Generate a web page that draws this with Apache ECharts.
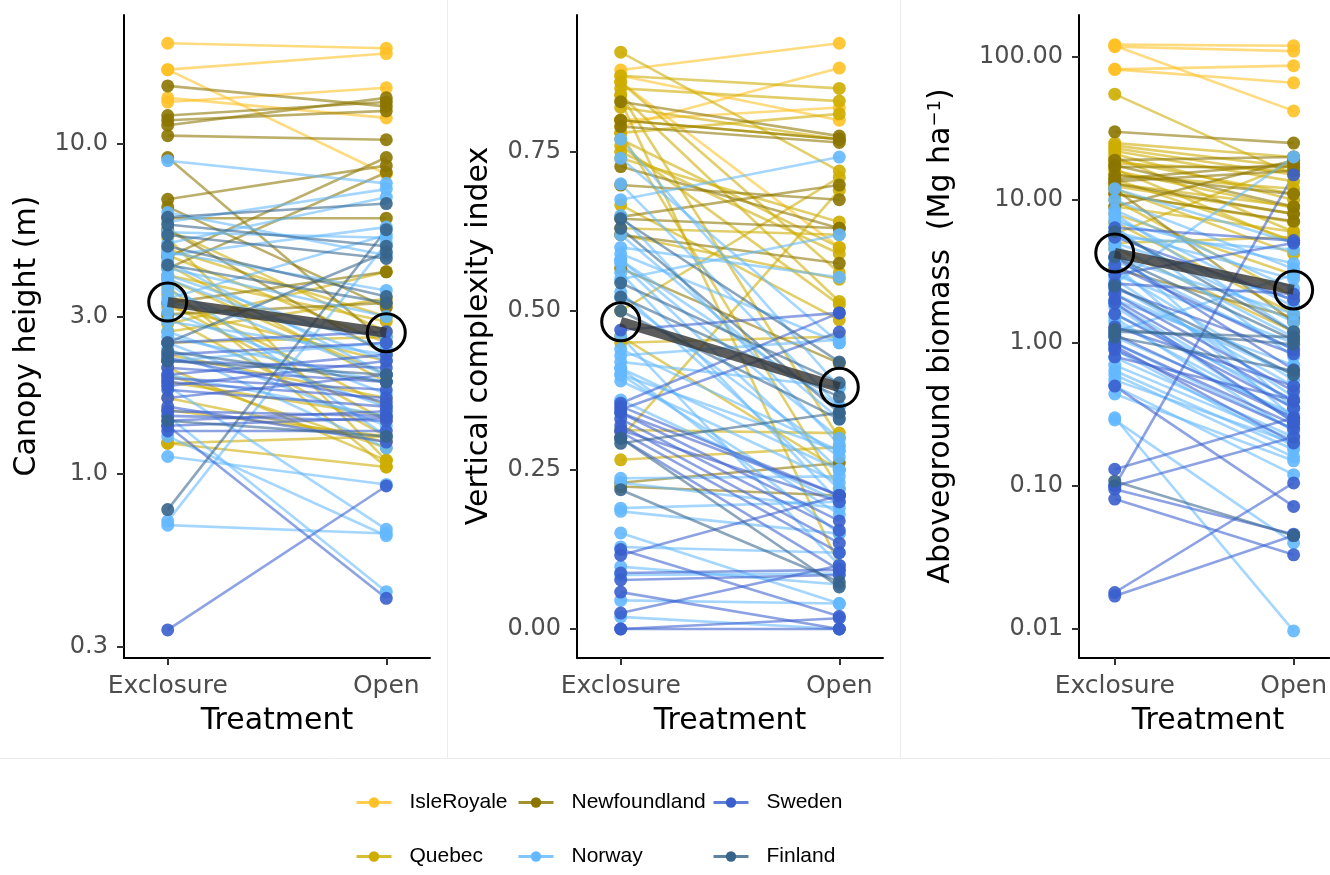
<!DOCTYPE html>
<html>
<head>
<meta charset="utf-8">
<script src="https://cdn.jsdelivr.net/npm/echarts@6.0.0/dist/echarts.min.js"></script>
<style>
html,body{margin:0;padding:0;background:#fff;}
#chart{width:1330px;height:875px;}
</style>
</head>
<body>
<div id="chart"></div>
<script>
// ---------------- DATA ----------------
const categories = ['Exclosure', 'Open'];
const regions = ['IsleRoyale', 'Quebec', 'Newfoundland', 'Norway', 'Sweden', 'Finland'];
const regionColors = ['#FFC125', '#CDAD00', '#8B7500', '#63B8FF', '#3A5FCD', '#36648B'];

// Canopy height (m): pairs [Exclosure, Open]
const heightIsleRoyale = [[20.2,19.5],[16.8,18.8],[16.8,8.1],[13.4,14.8],[13.8,12.0]];
const heightQuebec = [[5.5,2.7],[5.2,1.1],[4.8,3.0],[4.3,1.9],[4.0,2.9],[3.7,1.05],[3.5,1.6],[3.2,2.2],[3.0,1.3],[2.85,4.1],[2.5,2.6],[2.3,1.7],[2.1,1.1],[1.9,1.5],[1.7,1.25],[1.56,1.3],[1.24,1.3],[1.24,1.05],[2.7,3.4],[3.9,2.0],[4.6,2.5],[3.3,1.45],[2.0,1.2]];
const heightNewfoundland = [[15.0,13.0],[12.2,13.4],[11.8,12.6],[11.4,13.8],[10.6,10.3],[9.1,2.5],[6.8,8.6],[6.45,3.2],[5.96,5.96],[4.54,9.1],[3.3,4.1],[3.05,3.3],[5.5,2.3],[4.2,8.2]];
const heightNorway = [[8.9,7.6],[5.8,7.3],[5.4,5.2],[5.0,6.9],[4.7,3.6],[4.4,2.0],[4.0,2.4],[3.6,2.0],[3.4,5.3],[3.1,1.75],[2.9,2.3],[2.7,1.6],[2.5,1.4],[2.2,2.5],[2.0,1.5],[1.85,0.68],[1.5,0.44],[1.3,0.65],[1.13,0.93],[0.70,0.66],[0.72,5.0],[2.4,1.2],[6.2,4.6],[3.8,1.3],[4.2,3.0],[3.3,2.6],[2.6,1.9],[4.6,5.6],[3.9,2.2]];
const heightSweden = [[2.3,2.5],[2.2,2.1],[2.1,1.9],[2.0,2.3],[1.95,1.8],[1.9,1.7],[1.8,1.6],[1.7,2.0],[1.55,1.5],[1.5,1.45],[1.45,1.55],[1.4,0.42],[1.35,1.35],[1.4,1.48],[0.337,0.92],[2.5,2.7],[2.25,1.65],[1.85,2.2],[1.6,1.25]];
const heightFinland = [[6.0,6.6],[5.7,4.9],[5.3,4.5],[4.9,3.45],[2.5,4.7],[2.35,1.9],[1.45,1.3],[0.78,5.5],[2.2,2.0],[4.3,3.3]];
const heightMean = [3.32, 2.68];
const heightTicks = [0.3, 1, 3, 10];

// Vertical complexity index
const complexityIsleRoyale = [[0.879,0.921],[0.79,0.882],[0.86,0.60],[0.80,0.82],[0.87,0.80]];
const complexityQuebec = [[0.907,0.72],[0.87,0.85],[0.86,0.56],[0.85,0.83],[0.84,0.30],[0.83,0.10],[0.78,0.81],[0.77,0.60],[0.76,0.51],[0.75,0.59],[0.667,0.486],[0.63,0.62],[0.62,0.55],[0.50,0.71],[0.45,0.46],[0.313,0.308],[0.30,0.69],[0.266,0.286],[0.80,0.77],[0.78,0.22],[0.84,0.515],[0.46,0.25],[0.82,0.77],[0.74,0.64]];
const complexityNewfoundland = [[0.829,0.775],[0.79,0.765],[0.727,0.63],[0.698,0.675],[0.648,0.698],[0.645,0.63],[0.567,0.418],[0.62,0.575],[0.224,0.21],[0.23,0.261],[0.80,0.77]];
const complexityNorway = [[0.77,0.38],[0.675,0.742],[0.60,0.553],[0.59,0.45],[0.58,0.30],[0.575,0.25],[0.56,0.20],[0.55,0.62],[0.43,0.455],[0.42,0.38],[0.41,0.25],[0.40,0.18],[0.40,0.28],[0.39,0.23],[0.237,0.24],[0.23,0.19],[0.19,0.20],[0.185,0.15],[0.151,0.04],[0.129,0.12],[0.098,0.07],[0.085,0.087],[0.019,0.0],[0.045,0.04],[0.70,0.35],[0.65,0.29],[0.62,0.33],[0.46,0.10],[0.74,0.45],[0.52,0.27],[0.58,0.35],[0.53,0.22],[0.44,0.28],[0.41,0.15],[0.36,0.20]];
const complexitySweden = [[0.47,0.497],[0.355,0.497],[0.35,0.21],[0.34,0.17],[0.33,0.155],[0.32,0.135],[0.313,0.20],[0.30,0.093],[0.116,0.21],[0.088,0.093],[0.077,0.085],[0.058,0.0],[0.025,0.10],[0.0,0.017],[0.0,0.0],[0.125,0.02],[0.345,0.467],[0.34,0.21],[0.31,0.12]];
const complexityFinland = [[0.544,0.387],[0.522,0.365],[0.50,0.33],[0.645,0.42],[0.292,0.34],[0.219,0.074],[0.30,0.066],[0.63,0.34]];
const complexityMean = [0.483, 0.380];
const complexityTicks = [0, 0.25, 0.5, 0.75];

// Aboveground biomass (Mg ha-1)
const biomassIsleRoyale = [[122,120],[118,110],[120,42],[82,87],[82,66]];
const biomassQuebec = [[55,15],[25,20],[24,17],[22,13.5],[21,10],[20,6],[18,16],[16,8.8],[15,12],[14,5.2],[13,9],[12,4.2],[11,7],[10,2.1],[9,6],[8,3],[5.8,18],[5,5.5],[4.6,1.2],[7,1.6],[23,15],[19,11],[16.5,5],[12.5,8]];
const biomassNewfoundland = [[30,25],[19,20],[17,17],[15,11],[13,8],[12,1.4],[11,7.1],[3.3,1.5],[14,18],[9,19],[17.5,9],[13.5,16]];
const biomassNorway = [[12,5],[7,3.6],[6,2.8],[5,2],[4,1.6],[3,1.0],[2.5,0.5],[2,0.7],[1.6,0.4],[1.4,0.3],[1.2,3],[1.0,0.25],[0.79,0.22],[0.64,0.18],[0.55,0.2],[0.5,0.12],[0.44,0.15],[0.30,0.0097],[0.29,0.04],[6.5,0.8],[8,1.2],[4.5,0.35],[3.5,0.3],[2.2,0.6],[1.8,0.28],[0.9,0.19],[0.7,0.21],[2.6,20],[5.5,4.5],[10,3.3],[8.5,2.4],[7.5,1.8],[5.8,1.4],[4.8,1.1],[3.8,0.9],[3.2,0.55],[2.8,0.42],[1.9,0.35],[1.5,0.24],[1.1,0.32],[0.6,0.16]];
const biomassSweden = [[6.4,5.2],[2.6,2.2],[2.4,0.84],[2.2,0.46],[2.0,0.39],[1.15,0.3],[1.0,0.27],[0.95,0.2],[0.5,0.072],[0.131,0.3],[0.1,0.22],[0.1,15],[0.095,0.046],[0.081,0.033],[0.018,0.105],[0.017,0.045],[3,5],[1.3,0.5],[0.8,0.4],[5.5,2.0],[4.0,0.65],[3.5,0.9],[1.9,0.28],[1.6,0.35],[0.9,0.25]];
const biomassFinland = [[6,1.2],[4,1.05],[1.2,1.1],[1.1,0.64],[0.108,0.045],[2.5,0.6],[1.25,0.98]];
const biomassMean = [4.26, 2.35];
const biomassTicks = [0.01, 0.1, 1, 10, 100];

// ---------------- LAYOUT ----------------
const FONT = 'DejaVu Sans';
const LEGEND_FONT = '"Liberation Sans", Arial, sans-serif';
const panels = [
  { log: true, digits: 1, grid: {left: 124, top: 15, width: 306, height: 643}, range: [0.277, 24.6],
    ticks: heightTicks, mean: heightMean,
    sets: [heightIsleRoyale, heightQuebec, heightNewfoundland, heightNorway, heightSweden, heightFinland] },
  { log: false, digits: 2, grid: {left: 577, top: 15, width: 306, height: 643}, range: [-0.0456, 0.9654],
    ticks: complexityTicks, mean: complexityMean,
    sets: [complexityIsleRoyale, complexityQuebec, complexityNewfoundland, complexityNorway, complexitySweden, complexityFinland] },
  { log: true, digits: 2, grid: {left: 1079, top: 15, width: 258, height: 643}, range: [0.006268, 196.7],
    ticks: biomassTicks, mean: biomassMean,
    sets: [biomassIsleRoyale, biomassQuebec, biomassNewfoundland, biomassNorway, biomassSweden, biomassFinland] }
];

const grids = [], xAxes = [], yAxes = [], series = [];

// legend-carrier series (empty)
regions.forEach((name, r) => {
  series.push({ type: 'line', name, data: [], xAxisIndex: 0, yAxisIndex: 0, symbol: 'circle',
    lineStyle: {color: regionColors[r], width: 3, opacity: 1}, itemStyle: {color: regionColors[r]} });
});

panels.forEach((p, i) => {
  const tf = p.log ? (v => Math.log10(v)) : (v => v);
  grids.push(Object.assign({containLabel: false}, p.grid));
  xAxes.push({
    type: 'value', gridIndex: i, min: 0.8, max: 2.2,
    axisLine: {show: true, onZero: false, lineStyle: {color: '#000', width: 2}},
    axisTick: {show: true, length: 7, customValues: [1, 2], lineStyle: {color: '#333', width: 2}},
    axisLabel: {customValues: [1, 2], formatter: v => categories[Math.round(v) - 1],
      fontSize: 25, fontFamily: FONT, color: '#4d4d4d', margin: 16},
    splitLine: {show: false}
  });
  const tv = p.ticks.map(tf);
  yAxes.push({
    type: 'value', gridIndex: i, min: tf(p.range[0]), max: tf(p.range[1]),
    axisLine: {show: true, onZero: false, lineStyle: {color: '#000', width: 2}},
    axisTick: {show: true, length: 7, customValues: tv, lineStyle: {color: '#333', width: 2}},
    axisLabel: {customValues: tv, formatter: v => (p.log ? Math.pow(10, v) : v).toFixed(p.digits),
      fontSize: 24, fontFamily: FONT, color: '#4d4d4d', margin: 16},
    splitLine: {show: false}
  });
  p.sets.forEach((pairs, r) => {
    const col = regionColors[r];
    pairs.forEach(pr => {
      series.push({ type: 'line', name: regions[r], xAxisIndex: i, yAxisIndex: i,
        data: pr.map((v, k) => [k + 1, tf(v)]), symbol: 'none',
        lineStyle: {color: col, width: 2.6, opacity: 0.58}, itemStyle: {color: col}, z: 2 });
    });
  });
  p.sets.forEach((pairs, r) => {
    const pts = [];
    pairs.forEach(pr => pr.forEach((v, k) => pts.push([k + 1, tf(v)])));
    series.push({ type: 'scatter', name: regions[r], xAxisIndex: i, yAxisIndex: i, data: pts,
      symbolSize: 13, itemStyle: {color: regionColors[r], opacity: 0.9}, z: 3 });
  });
  const md = p.mean.map((v, k) => [k + 1, tf(v)]);
  series.push({ type: 'line', xAxisIndex: i, yAxisIndex: i, data: md, symbol: 'none',
    lineStyle: {color: '#333333', width: 10, opacity: 0.8}, z: 4 });
  series.push({ type: 'scatter', xAxisIndex: i, yAxisIndex: i, data: md, symbolSize: 38,
    itemStyle: {color: 'rgba(0,0,0,0)', borderColor: '#000', borderWidth: 3, opacity: 1}, z: 5 });
});

// legend: rows / columns
const legendRows = [['IsleRoyale', 'Newfoundland', 'Sweden'], ['Quebec', 'Norway', 'Finland']];
const legendColX = [355, 517, 712];
const legendRowY = [805, 859];
const legends = [];
legendRows.forEach((row, ri) => row.forEach((name, ci) => {
  legends.push({ data: [{name}], left: legendColX[ci], top: legendRowY[ri] - 13, padding: 0,
    itemWidth: 35, itemHeight: 13, selectedMode: false,
    lineStyle: {width: 3, opacity: 0.8},
    textStyle: {fontSize: 21, fontFamily: LEGEND_FONT, color: '#000', padding: [0, 0, 0, 13]} });
}));

const titleStyle = {fontSize: 30, fontFamily: FONT, fill: '#000', align: 'center', verticalAlign: 'middle'};
const graphic = [
  {type: 'line', shape: {x1: 447.5, y1: 0, x2: 447.5, y2: 758}, style: {stroke: '#ececec', lineWidth: 1}, silent: true},
  {type: 'line', shape: {x1: 900.5, y1: 0, x2: 900.5, y2: 758}, style: {stroke: '#ececec', lineWidth: 1}, silent: true},
  {type: 'line', shape: {x1: 0, y1: 758.5, x2: 1330, y2: 758.5}, style: {stroke: '#ececec', lineWidth: 1}, silent: true},
  {type: 'text', x: 27, y: 336, rotation: Math.PI / 2, style: Object.assign({text: 'Canopy height (m)'}, titleStyle)},
  {type: 'text', x: 479, y: 336, rotation: Math.PI / 2, style: Object.assign({text: 'Vertical complexity index'}, titleStyle)},
  {type: 'text', x: 941, y: 336, rotation: Math.PI / 2, style: Object.assign({
    text: 'Aboveground biomass  (Mg ha{sup|\u22121})',
    rich: {sup: {fontSize: 18, fontFamily: FONT, fill: '#000', verticalAlign: 'top'}}}, titleStyle)},
  {type: 'text', x: 277, y: 721, style: Object.assign({text: 'Treatment'}, titleStyle)},
  {type: 'text', x: 730, y: 721, style: Object.assign({text: 'Treatment'}, titleStyle)},
  {type: 'text', x: 1208, y: 721, style: Object.assign({text: 'Treatment'}, titleStyle)}
];

const chart = echarts.init(document.getElementById('chart'), null, {renderer: 'canvas'});
chart.setOption({
  animation: false,
  backgroundColor: '#fff',
  grid: grids, xAxis: xAxes, yAxis: yAxes,
  legend: legends,
  series: series,
  graphic: graphic
});
</script>
</body>
</html>
